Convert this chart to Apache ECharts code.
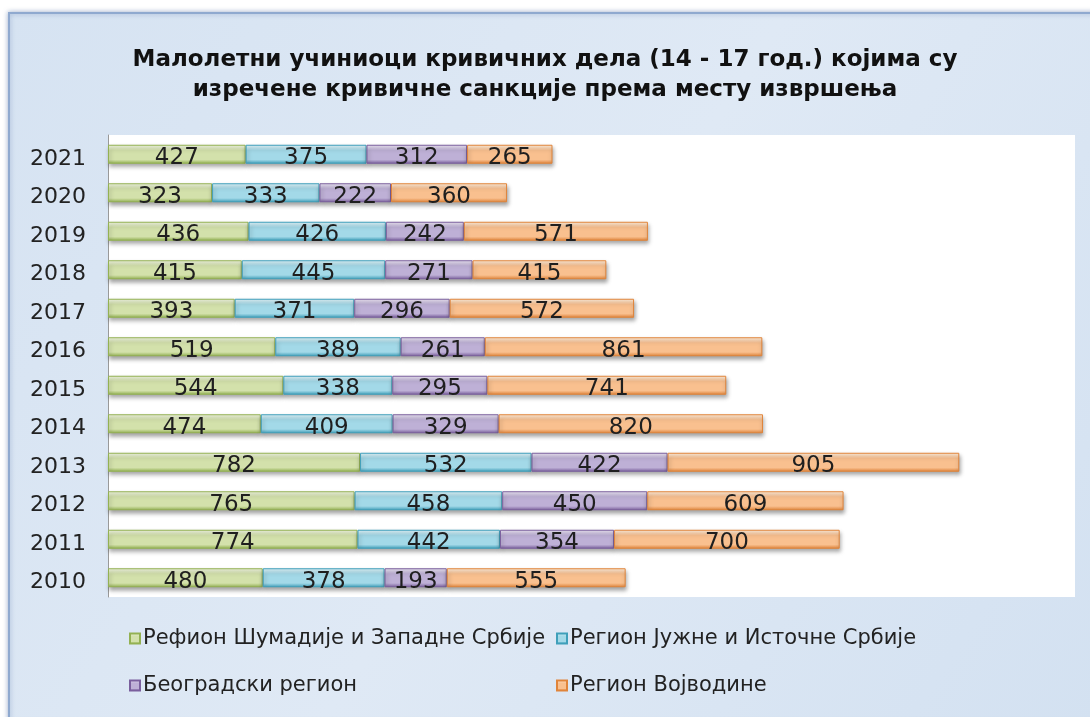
<!DOCTYPE html>
<html>
<head>
<meta charset="utf-8">
<script src="https://cdn.jsdelivr.net/npm/echarts@6/dist/echarts.min.js"></script>
<style>
  html, body { margin: 0; padding: 0; background: #ffffff; }
  #chart { width: 1090px; height: 717px; }
</style>
</head>
<body>
<div id="chart"></div>
<script>
let years = ['2010', '2011', '2012', '2013', '2014', '2015', '2016', '2017', '2018', '2019', '2020', '2021'];
let seriesNames = [
    'Рефион Шумадије и Западне Србије',
    'Регион Јужне и Источне Србије',
    'Београдски регион',
    'Регион Војводине'
];
let sumadija = [480, 774, 765, 782, 474, 544, 519, 393, 415, 436, 323, 427];
let jugIstok = [378, 442, 458, 532, 409, 338, 389, 371, 445, 426, 333, 375];
let beograd = [193, 354, 450, 422, 329, 295, 261, 296, 271, 242, 222, 312];
let vojvodina = [555, 700, 609, 905, 820, 741, 861, 572, 415, 571, 360, 265];

let palette = [
    {light: '#f1f6e4', main: '#d3e1ab', dark: '#93b152'},
    {light: '#e3f5fa', main: '#a3d9e8', dark: '#3f9fba'},
    {light: '#eee8f5', main: '#beb0d6', dark: '#7a5f9d'},
    {light: '#fff0e0', main: '#f9c08f', dark: '#e0843a'}
];

let labelFont = '"DejaVu Sans", sans-serif';

function bevel(c) {
    return new echarts.graphic.LinearGradient(0, 0, 0, 1, [
        {offset: 0, color: c.light},
        {offset: 0.3, color: c.main},
        {offset: 0.78, color: c.main},
        {offset: 1, color: c.dark}
    ]);
}

let myChart = echarts.init(document.getElementById('chart'));

let values = [sumadija, jugIstok, beograd, vojvodina];
let series = values.map(function (data, i) {
    return {
        name: seriesNames[i],
        type: 'bar',
        stack: 'total',
        barWidth: 19,
        data: data,
        itemStyle: {
            color: bevel(palette[i]),
            borderColor: palette[i].dark,
            borderWidth: 1,
            shadowColor: 'rgba(0,0,0,0.35)',
            shadowBlur: 4,
            shadowOffsetX: 1,
            shadowOffsetY: 3
        },
        label: {
            show: true,
            position: 'inside',
            color: '#1f1f1f',
            fontFamily: labelFont,
            fontSize: 23,
            offset: [0, 4]
        }
    };
});

let legendText = {fontFamily: labelFont, fontSize: 21, color: '#222', padding: [0, 0, 0, -2]};

myChart.setOption({
    animation: false,
    graphic: [{
        type: 'rect',
        z: -10,
        shape: {x: 9, y: 13, width: 1090, height: 710},
        style: {
            fill: new echarts.graphic.LinearGradient(0, 0, 1, 1, [
                {offset: 0, color: '#d6e3f2'},
                {offset: 0.5, color: '#dfe9f5'},
                {offset: 1, color: '#d3e1f1'}
            ]),
            stroke: '#8fa9cf',
            lineWidth: 2,
            shadowColor: 'rgba(90,120,170,0.5)',
            shadowBlur: 5
        }
    }],
    title: {
        text: 'Малолетни учиниоци кривичних дела (14 - 17 год.) којима су\nизречене кривичне санкције према месту извршења',
        left: 540,
        textAlign: 'center',
        top: 40,
        textStyle: {
            fontFamily: '"DejaVu Sans", sans-serif',
            fontWeight: 'bold',
            fontSize: 23,
            lineHeight: 30,
            color: '#111'
        }
    },
    legend: [{
        data: [seriesNames[0], seriesNames[2]],
        orient: 'vertical',
        left: 124,
        top: 623,
        itemGap: 26,
        itemWidth: 10,
        itemHeight: 10,
        icon: 'rect',
        textStyle: legendText
    }, {
        data: [seriesNames[1], seriesNames[3]],
        orient: 'vertical',
        left: 551,
        top: 623,
        itemGap: 26,
        itemWidth: 10,
        itemHeight: 10,
        icon: 'rect',
        textStyle: legendText
    }],
    grid: {
        left: 108,
        right: 15,
        top: 135,
        bottom: 120,
        show: true,
        backgroundColor: '#ffffff',
        borderWidth: 0
    },
    xAxis: {
        type: 'value',
        min: 0,
        max: 3000,
        show: false
    },
    yAxis: {
        type: 'category',
        data: years,
        axisLine: {lineStyle: {color: '#999'}},
        axisTick: {show: false},
        axisLabel: {
            margin: 22,
            formatter: '{y|{value}}',
            rich: {
                y: {
                    color: '#222',
                    fontFamily: labelFont,
                    fontSize: 22,
                    padding: [10, 0, 0, 0]
                }
            }
        }
    },
    series: series
});
</script>
</body>
</html>
